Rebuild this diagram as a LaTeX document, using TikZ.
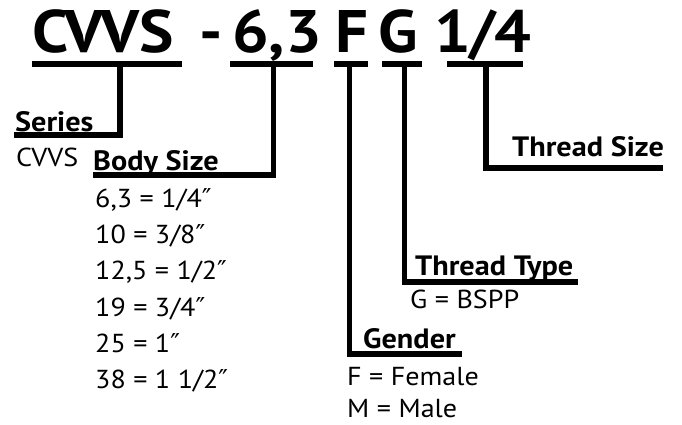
\documentclass[tikz,border=0pt]{standalone}
\usepackage{fontspec}
\setmainfont{PT Sans}[FakeStretch=1.08]
\newfontfamily\dqfont{DejaVu Sans}
\newcommand\dprime{{\dqfont ″}}
\begin{document}
\begin{tikzpicture}[x=1pt,y=-1pt,
  ttl/.style={inner sep=0pt,anchor=base west,font=\fontsize{60}{60}\selectfont\bfseries},
  lbl/.style={inner sep=0pt,anchor=base west,font=\fontsize{28}{28}\selectfont\bfseries},
  val/.style={inner sep=0pt,anchor=base west,text depth=0pt,font=\fontsize{26}{26}\selectfont},
  bar/.style={line width=5.5pt,line join=miter,line cap=butt}]
\useasboundingbox (0,0) rectangle (682,424);
% title
\node[ttl] (tCVVS) at (32,52) {CVVS};
\node[ttl] (tDash) at (199,52) {-};
\node[ttl] (t63) at (232,52) {6,3};
\node[ttl] (tF) at (335,52) {F};
\node[ttl] (tG) at (378,52) {G};
\node[ttl,anchor=base] (t14) at (483,52) {1\kern-2pt/\kern-1pt4};
% underline coordinates
\coordinate (uCl) at (32,64);  \coordinate (uCr) at (182,64);
\coordinate (u6l) at (230,64); \coordinate (u6r) at (313,64);
\coordinate (uFl) at (334,64); \coordinate (uFr) at (368,64);
\coordinate (uGl) at (382,64); \coordinate (uGr) at (422,64);
\coordinate (u1l) at (447,64); \coordinate (u1r) at (523,64);
\draw[bar] (uCl) -- (uCr);
\draw[bar] (u6l) -- (u6r);
\draw[bar] (uFl) -- (uFr);
\draw[bar] (uGl) -- (uGr);
\draw[bar] (u1l) -- (u1r);
% labels
\node[lbl] (lSeries) at (15,131) {Series};
\node[lbl] (lBody) at (93,170) {Body Size};
\node[lbl] (lTSize) at (512,156) {Thread Size};
\node[lbl] (lTType) at (415,275) {Thread Type};
\node[lbl] (lGender) at (363,348) {Gender};
% values
\node[val] (vSeries) at (16,166) {CVVS};
\node[val] (vB1) at (95,207) {6,3 = 1/4\dprime};
\node[val] (vB2) at (95,243) {10 = 3/8\dprime};
\node[val] (vB3) at (95,279.5) {12,5 = 1/2\dprime};
\node[val] (vB4) at (95,316) {19 = 3/4\dprime};
\node[val] (vB5) at (95,352) {25 = 1\dprime};
\node[val] (vB6) at (95,388) {38 = 1 1/2\dprime};
\node[val] (vTT) at (410,308) {G = BSPP};
\node[val] (vG1) at (347,385) {F = Female};
\node[val] (vG2) at (347,417) {M = Male};
% connectors
\coordinate (cS) at (120,64);   \coordinate (eS) at (14,135);
\coordinate (cB) at (273.5,64); \coordinate (eB) at (93,175);
\coordinate (cF) at (349.5,64); \coordinate (eF) at (462,354);
\coordinate (cG) at (404.5,64); \coordinate (eG) at (578,282);
\coordinate (c1) at (486,64);   \coordinate (e1) at (663,168);
\draw[bar] (cS) |- (eS);
\draw[bar] (cB) |- (eB);
\draw[bar] (cF) |- (eF);
\draw[bar] (cG) |- (eG);
\draw[bar] (c1) |- (e1);
\end{tikzpicture}
\end{document}
